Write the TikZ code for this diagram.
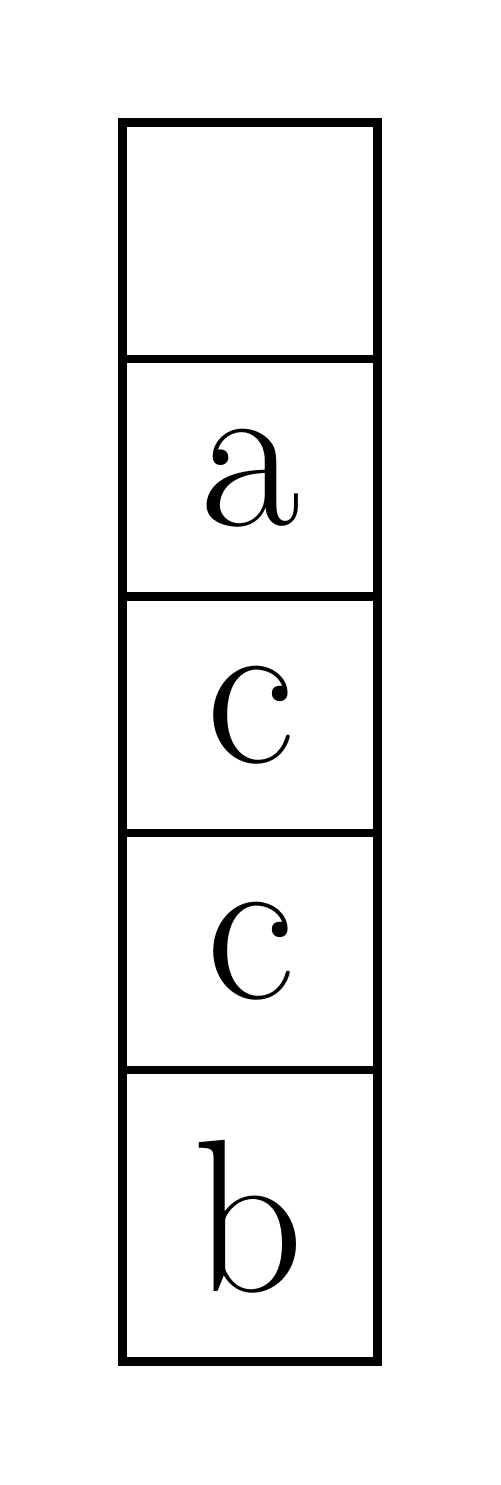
\documentclass[tikz,border=0pt]{standalone}
\usepackage{tikz}

\tikzset{
  cell/.style={draw=black, line width=0.82pt},
  letter/.style={font=\fontsize{21.8}{26}\selectfont, inner sep=0pt}
}

\begin{document}
\begin{tikzpicture}[x=0.1pt,y=0.1pt,yscale=-1,xscale=1]
%set diagram left start at 0, and has height of 1485
\useasboundingbox (0,0) rectangle (500,1485);

%Shape: Rectangle [top cell]
\draw [cell] (122.5,122.5) rectangle (377.5,359) ;
%Shape: Rectangle [cell a]
\draw [cell] (122.5,359) rectangle (377.5,596.5) ;
%Shape: Rectangle [cell c]
\draw [cell] (122.5,596.5) rectangle (377.5,833) ;
%Shape: Rectangle [cell c]
\draw [cell] (122.5,833) rectangle (377.5,1070) ;
%Shape: Rectangle [cell b]
\draw [cell] (122.5,1070) rectangle (377.5,1361.5) ;

% Text Nodes
\node [letter] (la) at (251,477.75) {a};
\node [letter] (lc1) at (251,714.75) {c};
\node [letter] (lc2) at (251,951.5) {c};
\node [letter] (lb) at (248.5,1216.5) {b};

\end{tikzpicture}
\end{document}
